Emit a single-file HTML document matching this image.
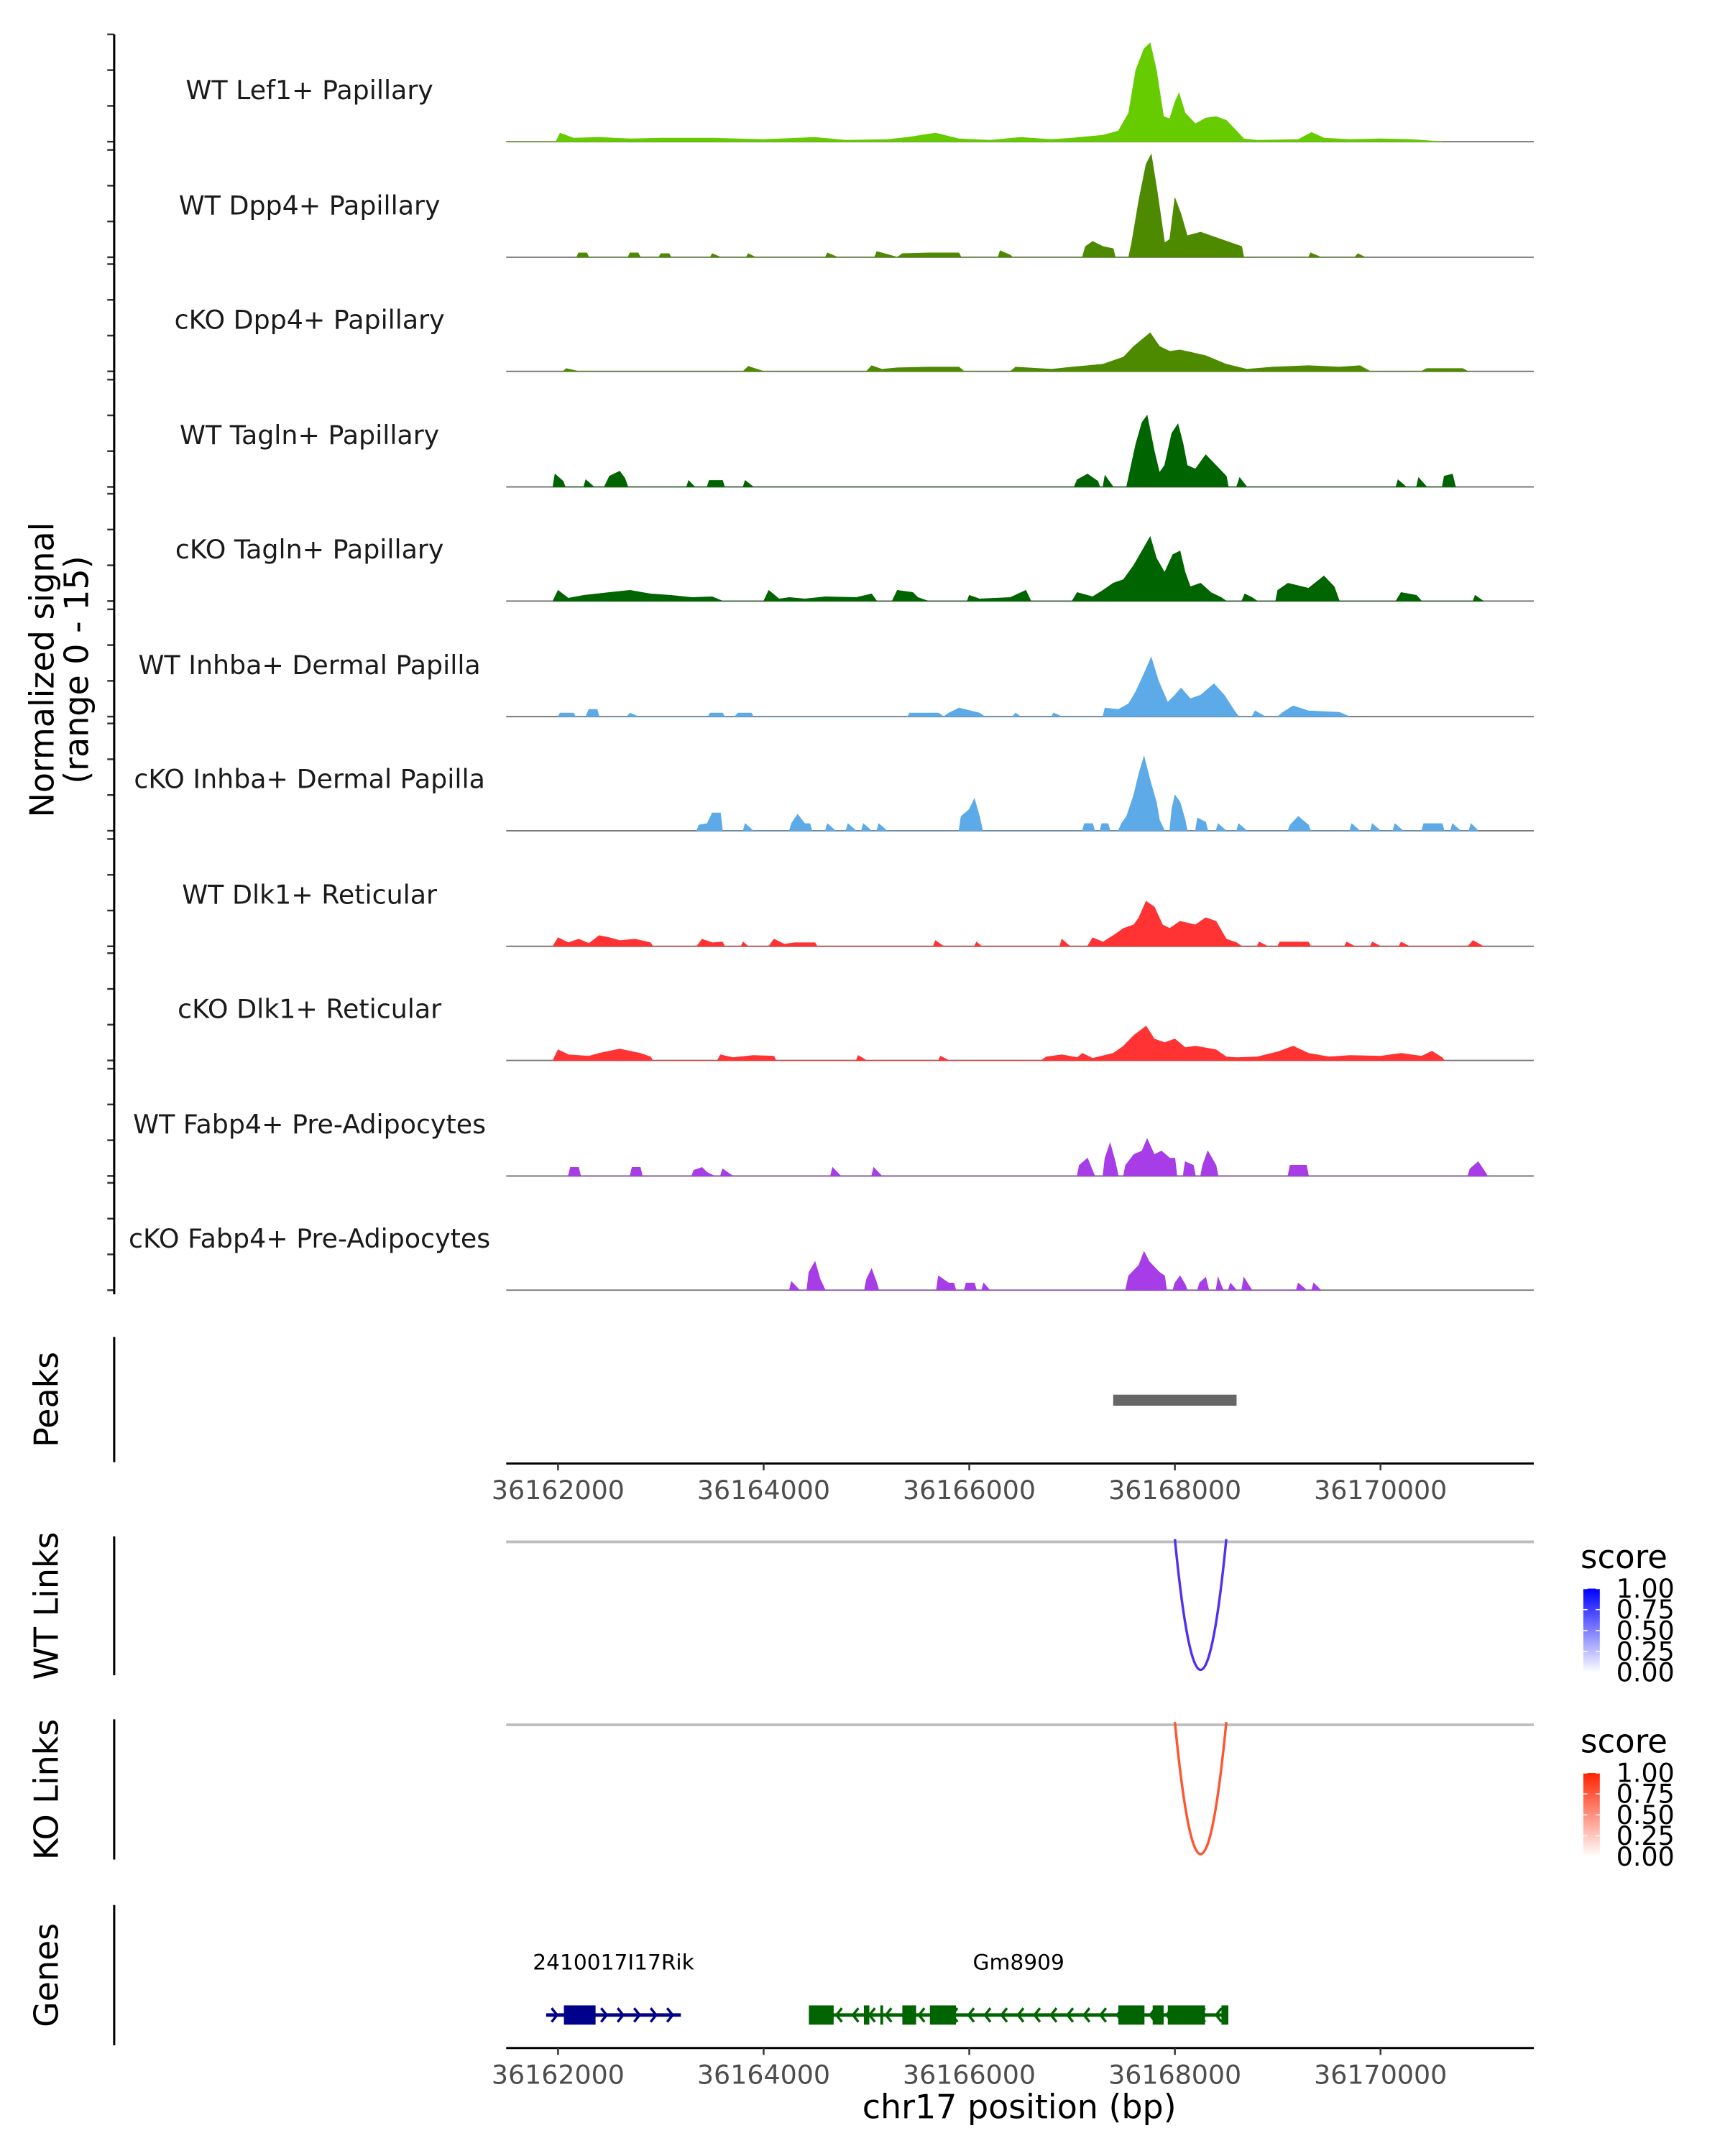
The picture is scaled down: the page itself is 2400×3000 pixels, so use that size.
<!DOCTYPE html>
<html><head><meta charset="utf-8"><style>
html,body{margin:0;padding:0;background:#fff;}
svg{display:block;font-family:"DejaVu Sans","Liberation Sans",sans-serif;}
</style></head><body>
<svg id="chart" xmlns="http://www.w3.org/2000/svg" width="2400" height="3000" viewBox="0 0 1254 1567.5" preserveAspectRatio="none">
<defs>
<linearGradient id="gBlue" x1="0" y1="1" x2="0" y2="0"><stop offset="0" stop-color="#ffffff"/><stop offset="1" stop-color="#0000ff"/></linearGradient>
<linearGradient id="gRed" x1="0" y1="1" x2="0" y2="0"><stop offset="0" stop-color="#ffffff"/><stop offset="1" stop-color="#ff2200"/></linearGradient>
</defs>
</svg>
<script>
// ---- data ----
const regionStart = 36161496;
const regionEnd = 36171491;
const xTicks = [36162000, 36164000, 36166000, 36168000, 36170000];
const trackNames = ["WT Lef1+ Papillary","WT Dpp4+ Papillary","cKO Dpp4+ Papillary","WT Tagln+ Papillary","cKO Tagln+ Papillary","WT Inhba+ Dermal Papilla","cKO Inhba+ Dermal Papilla","WT Dlk1+ Reticular","cKO Dlk1+ Reticular","WT Fabp4+ Pre-Adipocytes","cKO Fabp4+ Pre-Adipocytes"];
const trackColors = ["#66CC00","#4D8A00","#4D8A00","#006400","#006400","#5DAAE8","#5DAAE8","#FF3333","#FF3333","#A63DE6","#A63DE6"];
const signalRange = [0, 15];
// signal points: [kb offset from 36162000, normalized signal]
const sigWTLef1 = [[-0.5,0],[-0.02,0],[0.02,1.2],[0.15,0.5],[0.4,0.6],[0.7,0.4],[1.0,0.5],[1.5,0.5],[2.0,0.3],[2.5,0.6],[2.8,0.2],[3.2,0.3],[3.4,0.6],[3.67,1.2],[3.9,0.4],[4.2,0.2],[4.5,0.6],[4.8,0.3],[5.0,0.5],[5.3,0.9],[5.45,1.5],[5.55,4],[5.62,10],[5.7,13],[5.76,13.8],[5.82,10],[5.89,3.5],[5.95,3.2],[6.0,5.5],[6.04,6.8],[6.1,4],[6.2,2.5],[6.3,3.3],[6.4,3.5],[6.5,3.0],[6.6,1.5],[6.67,0.4],[6.8,0.2],[7.2,0.3],[7.33,1.3],[7.45,0.5],[7.7,0.3],[8.0,0.4],[8.3,0.3],[8.5,0.1],[8.6,0]];
const sigWTDpp4 = [[0.18,0],[0.2,0.6],[0.28,0.6],[0.3,0],[0.68,0],[0.7,0.6],[0.78,0.6],[0.8,0],[0.98,0],[1.0,0.5],[1.08,0.5],[1.1,0],[1.48,0],[1.5,0.5],[1.58,0],[1.83,0],[1.85,0.5],[1.92,0],[2.6,0],[2.62,0.6],[2.72,0],[3.08,0],[3.1,0.8],[3.2,0.4],[3.3,0],[3.35,0.5],[3.6,0.6],[3.9,0.6],[3.92,0],[4.28,0],[4.3,0.9],[4.4,0.3],[4.42,0],[5.1,0],[5.13,1.5],[5.2,2.2],[5.3,1.5],[5.4,1.2],[5.42,0],[5.55,0],[5.58,2],[5.65,8],[5.72,13],[5.77,14.4],[5.83,9],[5.9,2],[5.95,2.5],[6.0,8.3],[6.06,6],[6.12,3],[6.25,3.5],[6.35,3.0],[6.45,2.5],[6.55,2],[6.65,1.5],[6.67,0],[7.3,0],[7.32,0.6],[7.42,0],[7.75,0],[7.78,0.5],[7.85,0]];
const sigKODpp4 = [[0.05,0],[0.08,0.4],[0.2,0],[1.8,0],[1.85,0.7],[2.0,0],[3.0,0],[3.05,0.8],[3.15,0.3],[3.3,0.5],[3.6,0.6],[3.9,0.6],[3.95,0],[4.4,0],[4.45,0.6],[4.8,0.3],[5.0,0.6],[5.3,1],[5.5,2],[5.6,3.5],[5.76,5.4],[5.85,3.5],[5.95,2.8],[6.05,3.0],[6.3,2.2],[6.5,1.0],[6.7,0.3],[6.95,0.6],[7.3,0.8],[7.6,0.6],[7.8,0.8],[7.9,0],[8.4,0],[8.45,0.4],[8.8,0.4],[8.85,0]];
const sigWTTagln = [[-0.05,0],[-0.03,1.8],[0.05,0.8],[0.07,0],[0.25,0],[0.27,1.0],[0.35,0],[0.45,0],[0.5,1.5],[0.6,2.2],[0.65,1.2],[0.68,0],[1.25,0],[1.27,0.9],[1.33,0],[1.45,0],[1.47,0.9],[1.6,0.9],[1.62,0],[1.8,0],[1.82,0.9],[1.9,0],[5.02,0],[5.05,1.0],[5.15,1.8],[5.25,0.8],[5.27,0],[5.3,0],[5.32,1.6],[5.4,0],[5.53,0],[5.56,2],[5.62,6],[5.68,9],[5.73,10],[5.8,5],[5.85,2],[5.9,3],[5.97,7.5],[6.03,8.8],[6.08,6],[6.12,3],[6.2,2.5],[6.3,4.5],[6.4,3],[6.5,1.5],[6.52,0],[6.6,0],[6.63,1.3],[6.7,0],[8.15,0],[8.17,1],[8.25,0],[8.35,0],[8.37,1.3],[8.45,0],[8.6,0],[8.62,1.5],[8.7,1.8],[8.73,0]];
const sigKOTagln = [[-0.05,0],[0,1.5],[0.1,0.4],[0.25,0.8],[0.5,1.2],[0.7,1.5],[0.9,1.0],[1.1,0.8],[1.3,0.5],[1.5,0.6],[1.6,0],[2.0,0],[2.05,1.5],[2.15,0.3],[2.25,0.5],[2.4,0.3],[2.6,0.6],[2.9,0.5],[3.05,1.0],[3.1,0],[3.25,0],[3.3,1.5],[3.45,1.2],[3.5,0.5],[3.6,0],[3.98,0],[4.0,0.8],[4.1,0.3],[4.4,0.5],[4.55,1.5],[4.6,0],[5.0,0],[5.05,1.2],[5.2,0.6],[5.3,1.5],[5.4,2.5],[5.5,3],[5.6,5],[5.72,8],[5.76,9],[5.82,6],[5.9,4],[5.98,6.5],[6.05,7],[6.1,4],[6.15,2],[6.25,2.5],[6.35,1.2],[6.45,0.5],[6.5,0],[6.65,0],[6.68,1],[6.75,0.5],[6.8,0],[6.98,0],[7.0,1.5],[7.1,2.5],[7.3,1.8],[7.45,3.5],[7.55,2],[7.6,0],[8.15,0],[8.2,1.2],[8.35,0.8],[8.4,0],[8.9,0],[8.92,0.8],[9.0,0]];
const sigWTInhba = [[0.0,0],[0.02,0.5],[0.15,0.5],[0.17,0],[0.27,0],[0.3,1.0],[0.38,1.0],[0.4,0],[0.67,0],[0.7,0.5],[0.78,0],[1.46,0],[1.48,0.5],[1.6,0.5],[1.62,0],[1.72,0],[1.75,0.5],[1.88,0.5],[1.9,0],[3.4,0],[3.42,0.5],[3.7,0.5],[3.75,0],[3.8,0.5],[3.9,1.2],[4.1,0.5],[4.15,0],[4.42,0],[4.45,0.5],[4.5,0],[4.8,0],[4.82,0.5],[4.9,0],[5.3,0],[5.32,1.2],[5.45,1.0],[5.55,1.8],[5.62,3.5],[5.7,6],[5.77,8.3],[5.84,5],[5.93,2],[6.0,3],[6.06,4],[6.15,2.5],[6.25,3],[6.38,4.6],[6.48,3],[6.58,0.8],[6.62,0],[6.75,0],[6.78,0.8],[6.88,0],[7.0,0],[7.05,0.6],[7.15,1.5],[7.3,0.8],[7.6,0.6],[7.7,0]];
const sigKOInhba = [[1.35,0],[1.37,0.8],[1.45,1.0],[1.5,2.5],[1.58,2.5],[1.6,0],[1.8,0],[1.82,1.0],[1.9,0],[2.25,0],[2.27,1],[2.33,2.3],[2.4,1],[2.45,1],[2.47,0],[2.6,0],[2.62,1],[2.7,0],[2.8,0],[2.82,1],[2.9,0],[2.95,0],[2.97,1],[3.05,0],[3.1,0],[3.12,1],[3.2,0],[3.9,0],[3.92,2],[4.0,3],[4.05,4.5],[4.1,2],[4.13,0],[5.1,0],[5.12,1],[5.2,1],[5.22,0],[5.27,0],[5.29,1],[5.35,1],[5.37,0],[5.45,0],[5.48,1],[5.53,2],[5.6,5],[5.65,8],[5.7,10.4],[5.76,7],[5.82,4],[5.85,1.5],[5.9,0],[5.95,0],[5.97,3],[6.0,5],[6.05,4],[6.1,1.5],[6.12,0],[6.2,0],[6.22,1.8],[6.3,1.2],[6.32,0],[6.4,0],[6.42,1],[6.5,0],[6.6,0],[6.62,1],[6.7,0],[7.1,0],[7.12,0.8],[7.2,2],[7.3,0.8],[7.32,0],[7.7,0],[7.72,1],[7.8,0],[7.9,0],[7.92,1],[8.0,0],[8.12,0],[8.14,1],[8.22,0],[8.4,0],[8.42,1],[8.6,1],[8.62,0],[8.68,0],[8.7,1],[8.78,0],[8.86,0],[8.88,1],[8.95,0]];
const sigWTDlk1 = [[-0.05,0],[0,1.2],[0.1,0.5],[0.2,1],[0.3,0.4],[0.4,1.5],[0.5,1.2],[0.6,0.8],[0.75,1],[0.9,0.5],[0.92,0],[1.35,0],[1.4,1],[1.5,0.5],[1.6,0.6],[1.62,0],[1.78,0],[1.8,0.6],[1.85,0],[2.05,0],[2.1,1],[2.2,0.3],[2.3,0.5],[2.5,0.5],[2.52,0],[3.65,0],[3.67,0.8],[3.75,0],[4.05,0],[4.07,0.6],[4.12,0],[4.88,0],[4.9,1],[4.98,0],[5.15,0],[5.2,1.2],[5.3,0.6],[5.4,1.5],[5.5,2.5],[5.6,3],[5.65,4],[5.72,6.3],[5.8,5.5],[5.88,3],[5.95,2.5],[6.05,3.5],[6.2,3],[6.3,4],[6.4,3.5],[6.5,1],[6.6,0.5],[6.65,0],[6.8,0],[6.82,0.6],[6.9,0],[7.0,0],[7.02,0.6],[7.3,0.6],[7.32,0],[7.65,0],[7.67,0.6],[7.75,0],[7.9,0],[7.92,0.6],[8.0,0],[8.18,0],[8.2,0.6],[8.28,0],[8.85,0],[8.9,0.8],[9.0,0]];
const sigKODlk1 = [[-0.05,0],[0,1.5],[0.1,0.8],[0.3,0.6],[0.4,1.0],[0.6,1.6],[0.8,1.0],[0.9,0.5],[0.92,0],[1.55,0],[1.58,0.8],[1.7,0.4],[1.9,0.7],[2.1,0.6],[2.12,0],[2.9,0],[2.92,0.7],[3.0,0],[3.7,0],[3.72,0.6],[3.8,0],[4.7,0],[4.75,0.5],[4.9,0.8],[5.05,0.4],[5.1,1],[5.2,0.3],[5.4,1],[5.5,2],[5.6,3.5],[5.72,4.8],[5.8,3],[5.9,2.5],[6.0,3],[6.1,1.8],[6.2,2],[6.4,1.5],[6.5,0.5],[6.6,0.4],[6.8,0.5],[7.0,1.2],[7.15,2.0],[7.3,1.0],[7.5,0.5],[7.7,0.7],[8.0,0.6],[8.2,1.0],[8.4,0.6],[8.5,1.3],[8.6,0.4],[8.62,0]];
const sigWTFabp4 = [[0.1,0],[0.12,1.2],[0.2,1.2],[0.22,0],[0.7,0],[0.72,1.2],[0.8,1.2],[0.82,0],[1.3,0],[1.32,0.8],[1.4,1.2],[1.45,0.5],[1.52,0],[1.58,0],[1.6,1],[1.7,0],[2.65,0],[2.67,1.2],[2.75,0],[3.05,0],[3.07,1.2],[3.15,0],[5.05,0],[5.07,1.5],[5.15,2.5],[5.22,0],[5.3,0],[5.32,2.5],[5.37,4.6],[5.42,2],[5.45,0],[5.5,0],[5.52,1.5],[5.6,3],[5.68,3.5],[5.73,5.2],[5.8,3],[5.87,3.5],[5.95,2.5],[6.0,2.5],[6.02,0],[6.08,0],[6.1,2],[6.18,1.5],[6.2,0],[6.25,0],[6.27,1.5],[6.32,3.5],[6.4,1.5],[6.42,0],[7.1,0],[7.12,1.5],[7.28,1.5],[7.3,0],[8.85,0],[8.87,1],[8.95,2],[9.02,0.5],[9.04,0]];
const sigKOFabp4 = [[2.25,0],[2.27,1.2],[2.35,0],[2.42,0],[2.44,2.5],[2.5,4],[2.55,1.5],[2.6,0],[2.98,0],[3.0,1.5],[3.05,3],[3.1,1],[3.12,0],[3.68,0],[3.7,2],[3.8,1],[3.85,1],[3.87,0],[3.95,0],[3.97,1],[4.05,1],[4.07,0],[4.12,0],[4.14,1],[4.2,0],[5.52,0],[5.55,2],[5.65,3.5],[5.7,5.4],[5.75,4],[5.85,2.5],[5.9,2],[5.92,0],[5.98,0],[6.0,1],[6.05,2],[6.1,0.8],[6.12,0],[6.22,0],[6.24,1],[6.3,1.8],[6.33,0],[6.4,0],[6.42,1.8],[6.47,0],[6.52,0],[6.54,1],[6.6,0],[6.65,0],[6.67,1.8],[6.75,0],[7.18,0],[7.2,1],[7.28,0],[7.33,0],[7.35,1],[7.42,0]];
const peakStarts = [36167400];
const peakEnds = [36168600];
const wtLinkStart = [36168000];
const wtLinkEnd = [36168500];
const wtLinkScore = [0.8];
const koLinkStart = [36168000];
const koLinkEnd = [36168500];
const koLinkScore = [0.8];
const legendTicks = ["1.00","0.75","0.50","0.25","0.00"];
const geneNames = ["2410017I17Rik","Gm8909"];
const geneStarts = [36161884, 36164440];
const geneEnds = [36163195, 36168520];
const geneStrand = ["+","-"];
const gene1ExonStarts = [36162057];
const gene1ExonEnds = [36162365];
const gene2ExonStarts = [36164440,36164975,36165135,36165349,36165617,36167450,36167784,36167931,36168453];
const gene2ExonEnds = [36164681,36165028,36165162,36165483,36165871,36167704,36167891,36168293,36168520];

// ---- helpers ----
const NS = "http://www.w3.org/2000/svg";
const svg = document.getElementById("chart");
function mk(tag, attrs, parent) {
  const e = document.createElementNS(NS, tag);
  for (const k in attrs) e.setAttribute(k, attrs[k]);
  (parent || svg).appendChild(e);
  return e;
}
const X0 = 368, X1 = 1115;
function xs(bp) { return X0 + (bp - regionStart) / (regionEnd - regionStart) * (X1 - X0); }
function xkb(kb) { return xs(36162000 + kb * 1000); }
const trackBase = [103,187,270,354,437,521,604,688,771,855,938];
const trackH = 78;
function ys(v, base) { return base - (v - signalRange[0]) / (signalRange[1] - signalRange[0]) * trackH; }
const signals = [sigWTLef1,sigWTDpp4,sigKODpp4,sigWTTagln,sigKOTagln,sigWTInhba,sigKOInhba,sigWTDlk1,sigKODlk1,sigWTFabp4,sigKOFabp4];

// ---- coverage tracks ----
const cov = mk("g", {});


const lax = mk("line", {x1:83,y1:25,x2:83,y2:941,stroke:"#000","stroke-width":1.6});


trackNames.forEach((name, i) => {
  const base = trackBase[i];
  const g = mk("g", {}, cov);
  
  
  [0,5,10,15].forEach(v => {
    const t = mk("line", {x1:78,x2:83,y1:ys(v,base),y2:ys(v,base),stroke:"#333","stroke-width":1.3}, g);
    
    
  });
  const pts = signals[i];
  let d = "M" + xkb(pts[0][0]).toFixed(2) + "," + base;
  pts.forEach(p => { d += " L" + xkb(p[0]).toFixed(2) + "," + ys(p[1], base).toFixed(2); });
  d += " L" + xkb(pts[pts.length-1][0]).toFixed(2) + "," + base + " Z";
  const bl = mk("line", {x1:X0,x2:X1,y1:base,y2:base,stroke:"#7a7a7a","stroke-width":1}, g);
  
  
  const a = mk("path", {d:d, fill:trackColors[i], stroke:trackColors[i], "stroke-width":0.4}, g);
  
  
  const lb = mk("text", {x:225,y:base-31,"text-anchor":"middle","font-size":19,fill:"#1a1a1a"}, g);
  lb.textContent = name;
  
  
});
const yt = mk("text", {transform:"translate(42,487) rotate(-90)","text-anchor":"middle","font-size":24,fill:"#000"});


const t1 = mk("tspan", {x:0,dy:-3}, yt); t1.textContent = "Normalized signal";
const t2 = mk("tspan", {x:0,dy:25}, yt); t2.textContent = "(range 0 - 15)";

// ---- section axes ----
function sideAxis(y1, y2, label, name) {
  const l = mk("line", {x1:83,y1:y1,x2:83,y2:y2,stroke:"#000","stroke-width":1.6});
  
  
  const t = mk("text", {transform:"translate(42," + ((y1+y2)/2) + ") rotate(-90)","text-anchor":"middle","font-size":24,fill:"#000"});
  t.textContent = label;
  
  
}
function xAxis(y, name) {
  const g = mk("g", {});
  
  
  mk("line", {x1:X0,x2:X1,y1:y,y2:y,stroke:"#000","stroke-width":1.6}, g);
  xTicks.forEach(v => {
    mk("line", {x1:xs(v),x2:xs(v),y1:y,y2:y+5,stroke:"#333","stroke-width":1.3}, g);
    const t = mk("text", {x:xs(v),y:y+26,"text-anchor":"middle","font-size":19,fill:"#4d4d4d"}, g);
    t.textContent = v;
    
    
  });
}

// peaks
sideAxis(972, 1063, "Peaks", "peaks");
peakStarts.forEach((s, i) => {
  const r = mk("rect", {x:xs(s),y:1014,width:xs(peakEnds[i])-xs(s),height:8,fill:"#666"});
  
  
});
xAxis(1064, "x-axis-top");

// links
function links(yTop, yBot, starts, ends, scores, col, gradId, legY, name) {
  sideAxis(yTop - 4, yBot + 3, name === "wt-links" ? "WT Links" : "KO Links", name);
  const bl = mk("line", {x1:X0,x2:X1,y1:yTop,y2:yTop,stroke:"#bdbdbd","stroke-width":2});
  
  
  starts.forEach((s, i) => {
    const a = xs(s), b = xs(ends[i]);
    const depth = (yBot - yTop) * 2 * scores[i] / 0.8;
    const p = mk("path", {d:"M"+a+","+(yTop-2)+" Q"+((a+b)/2)+","+(yTop+depth)+" "+b+","+(yTop-2),fill:"none",stroke:col,"stroke-width":1.8});
    
    
  });
  const lg = mk("g", {});
  
  
  const st = mk("text", {x:1149,y:legY,"font-size":23.5,fill:"#000"}, lg);
  st.textContent = "score";
  mk("rect", {x:1151,y:legY+15,width:12,height:61,fill:"url(#" + gradId + ")"}, lg);
  legendTicks.forEach((t, k) => {
    const yy = legY + 15 + k * 15.25;
    mk("line", {x1:1151,x2:1154,y1:yy,y2:yy,stroke:"#fff","stroke-width":0.8}, lg);
    mk("line", {x1:1160,x2:1163,y1:yy,y2:yy,stroke:"#fff","stroke-width":0.8}, lg);
    const tx = mk("text", {x:1175,y:yy+6.5,"font-size":19,fill:"#000"}, lg);
    tx.textContent = t;
    
    
  });
}
links(1121, 1215, wtLinkStart, wtLinkEnd, wtLinkScore, "#5230F0", "gBlue", 1140, "wt-links");
links(1254, 1349, koLinkStart, koLinkEnd, koLinkScore, "#FF5530", "gRed", 1274, "ko-links");

// genes
sideAxis(1385, 1487, "Genes", "genes");
const geneY = 1465;
function drawGene(idx, exS, exE, col) {
  const g = mk("g", {});
  
  
  const a = xs(geneStarts[idx]), b = xs(geneEnds[idx]);
  mk("line", {x1:a,x2:b,y1:geneY,y2:geneY,stroke:col,"stroke-width":2.5}, g);
  for (let x = a + 8; x < b - 2; x += 12) {
    const dx = geneStrand[idx] === "+" ? 4 : -4;
    mk("polyline", {points:(x-dx)+","+(geneY-5)+" "+x+","+geneY+" "+(x-dx)+","+(geneY+5),fill:"none",stroke:col,"stroke-width":1.8}, g);
  }
  exS.forEach((s, k) => {
    const r = mk("rect", {x:xs(s),y:geneY-7,width:Math.max(2,xs(exE[k])-xs(s)),height:14,fill:col}, g);
    
    
  });
  const t = mk("text", {x:(a+b)/2,y:1432,"text-anchor":"middle","font-size":15.5,fill:"#000"}, g);
  t.textContent = geneNames[idx];
  
  
}
drawGene(0, gene1ExonStarts, gene1ExonEnds, "#00008B");
drawGene(1, gene2ExonStarts, gene2ExonEnds, "#006400");
xAxis(1489, "x-axis-bottom");
const xt = mk("text", {x:741,y:1540,"text-anchor":"middle","font-size":24,fill:"#000"});
xt.textContent = "chr17 position (bp)";


</script>
</body></html>
